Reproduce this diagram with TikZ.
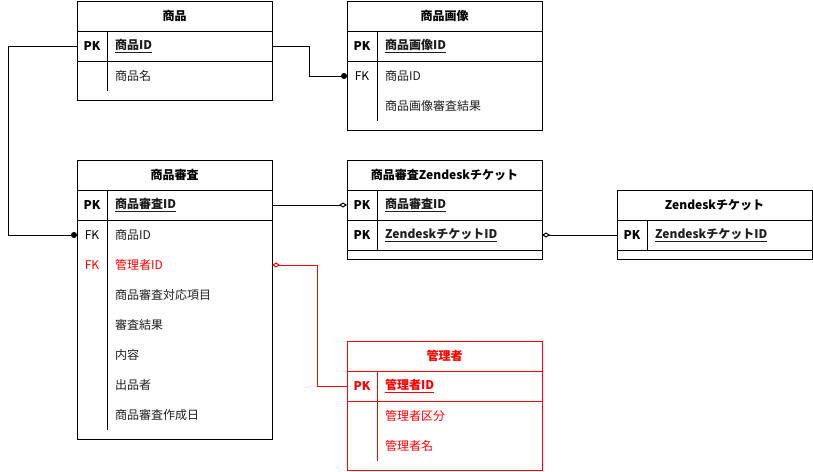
\documentclass[tikz,border=0pt]{standalone}
\usepackage{fontspec}
\setmainfont{Noto Sans CJK JP}
\usetikzlibrary{positioning}
\usetikzlibrary{arrows.meta}
\definecolor{erRojo}{RGB}{255,0,0}
\definecolor{erTexto}{RGB}{30,30,30}
\tikzset{
  letra/.style={font=\fontsize{12pt}{14pt}\selectfont},
  cabecera/.style={
    rectangle, draw, line width=1pt, minimum width=195pt, minimum height=30pt,
    inner sep=0pt, outer sep=0pt, font=\fontsize{12pt}{14pt}\selectfont\bfseries
  },
  filapk/.style={
    rectangle, draw, line width=1pt, minimum width=195pt, minimum height=30pt,
    inner sep=0pt, outer sep=0pt
  },
  fila/.style={
    rectangle, minimum width=195pt, minimum height=30pt, inner sep=0pt, outer sep=0pt
  },
  cuerpo/.style={
    rectangle, draw, line width=1pt, minimum width=195pt, inner sep=0pt, outer sep=0pt
  },
  clave/.style={font=\fontsize{12pt}{14pt}\selectfont\bfseries, inner sep=0pt},
  claveF/.style={font=\fontsize{12pt}{14pt}\selectfont, inner sep=0pt},
  campo/.style={anchor=west, inner sep=0pt, text=erTexto},
  divisor/.style={line width=1pt},
  rel/.style={line width=1pt},
  uno/.style={-{Circle[length=6pt]}},
  cero/.style={-{Diamond[open, length=8pt, width=5pt, line width=1pt]}}
}
\begin{document}
\begin{tikzpicture}[x=1pt, y=-1pt, letra]
  \useasboundingbox (0,0) rectangle (813,471);
  % 商品
  \node[cabecera, anchor=north west] (shohin) at (77,1) {商品};
  \node[filapk, below=0pt of shohin] (shohinPK) {};
  \node[cuerpo, minimum height=39pt, below=0pt of shohinPK] (shohinB) {};
  \node[fila, below=0pt of shohinPK] (shohinF1) {};
  \draw[divisor] ([xshift=30pt]shohinPK.north west) -- ([xshift=30pt]shohinF1.south west);
  \node[clave] (shohinK0) at ([xshift=15pt]shohinPK.west) {PK};
  \node[campo] (shohinC0) at ([xshift=38pt]shohinPK.west) {\textbf{\underline{商品ID}}};
  \node[campo] (shohinC1) at ([xshift=38pt]shohinF1.west) {商品名};

  % 商品画像
  \node[cabecera, anchor=north west] (gazo) at (347,1) {商品画像};
  \node[filapk, below=0pt of gazo] (gazoPK) {};
  \node[cuerpo, minimum height=69pt, below=0pt of gazoPK] (gazoB) {};
  \node[fila, below=0pt of gazoPK] (gazoF1) {};
  \node[fila, below=0pt of gazoF1] (gazoF2) {};
  \draw[divisor] ([xshift=30pt]gazoPK.north west) -- ([xshift=30pt]gazoF2.south west);
  \node[clave] (gazoK0) at ([xshift=15pt]gazoPK.west) {PK};
  \node[campo] (gazoC0) at ([xshift=38pt]gazoPK.west) {\textbf{\underline{商品画像ID}}};
  \node[claveF] (gazoK1) at ([xshift=15pt]gazoF1.west) {FK};
  \node[campo] (gazoC1) at ([xshift=38pt]gazoF1.west) {商品ID};
  \node[campo] (gazoC2) at ([xshift=38pt]gazoF2.west) {商品画像審査結果};

  % 商品審査
  \node[cabecera, anchor=north west] (shinsa) at (77,160) {商品審査};
  \node[filapk, below=0pt of shinsa] (shinsaPK) {};
  \node[cuerpo, minimum height=219pt, below=0pt of shinsaPK] (shinsaB) {};
  \node[fila, below=0pt of shinsaPK] (shinsaF1) {};
  \node[fila, below=0pt of shinsaF1] (shinsaF2) {};
  \node[fila, below=0pt of shinsaF2] (shinsaF3) {};
  \node[fila, below=0pt of shinsaF3] (shinsaF4) {};
  \node[fila, below=0pt of shinsaF4] (shinsaF5) {};
  \node[fila, below=0pt of shinsaF5] (shinsaF6) {};
  \node[fila, below=0pt of shinsaF6] (shinsaF7) {};
  \draw[divisor] ([xshift=30pt]shinsaPK.north west) -- ([xshift=30pt]shinsaF7.south west);
  \node[clave] (shinsaK0) at ([xshift=15pt]shinsaPK.west) {PK};
  \node[campo] (shinsaC0) at ([xshift=38pt]shinsaPK.west) {\textbf{\underline{商品審査ID}}};
  \node[claveF] (shinsaK1) at ([xshift=15pt]shinsaF1.west) {FK};
  \node[campo] (shinsaC1) at ([xshift=38pt]shinsaF1.west) {商品ID};
  \node[claveF, text=erRojo] (shinsaK2) at ([xshift=15pt]shinsaF2.west) {FK};
  \node[campo, text=erRojo] (shinsaC2) at ([xshift=38pt]shinsaF2.west) {管理者ID};
  \node[campo] (shinsaC3) at ([xshift=38pt]shinsaF3.west) {商品審査対応項目};
  \node[campo] (shinsaC4) at ([xshift=38pt]shinsaF4.west) {審査結果};
  \node[campo] (shinsaC5) at ([xshift=38pt]shinsaF5.west) {内容};
  \node[campo] (shinsaC6) at ([xshift=38pt]shinsaF6.west) {出品者};
  \node[campo] (shinsaC7) at ([xshift=38pt]shinsaF7.west) {商品審査作成日};

  % 商品審査Zendeskチケット
  \node[cabecera, anchor=north west] (zdShinsa) at (347,160) {商品審査Zendeskチケット};
  \node[filapk, below=0pt of zdShinsa] (zdShinsaPK1) {};
  \node[filapk, below=0pt of zdShinsaPK1] (zdShinsaPK2) {};
  \node[cuerpo, minimum height=9pt, below=0pt of zdShinsaPK2] (zdShinsaB) {};
  \draw[divisor] ([xshift=30pt]zdShinsaPK1.north west) -- ([xshift=30pt]zdShinsaPK2.south west);
  \node[clave] (zdShinsaK1) at ([xshift=15pt]zdShinsaPK1.west) {PK};
  \node[campo] (zdShinsaC1) at ([xshift=38pt]zdShinsaPK1.west) {\textbf{\underline{商品審査ID}}};
  \node[clave] (zdShinsaK2) at ([xshift=15pt]zdShinsaPK2.west) {PK};
  \node[campo] (zdShinsaC2) at ([xshift=38pt]zdShinsaPK2.west) {\textbf{\underline{ZendeskチケットID}}};

  % Zendeskチケット
  \node[cabecera, anchor=north west] (zd) at (617,190) {Zendeskチケット};
  \node[filapk, below=0pt of zd] (zdPK) {};
  \node[cuerpo, minimum height=9pt, below=0pt of zdPK] (zdB) {};
  \draw[divisor] ([xshift=30pt]zdPK.north west) -- ([xshift=30pt]zdPK.south west);
  \node[clave] (zdK0) at ([xshift=15pt]zdPK.west) {PK};
  \node[campo] (zdC0) at ([xshift=38pt]zdPK.west) {\textbf{\underline{ZendeskチケットID}}};

  % 管理者
  \begin{scope}[draw=erRojo, text=erRojo]
    \node[cabecera, draw=erRojo, anchor=north west] (kanri) at (347,341) {管理者};
    \node[filapk, draw=erRojo, below=0pt of kanri] (kanriPK) {};
    \node[cuerpo, draw=erRojo, minimum height=69pt, below=0pt of kanriPK] (kanriB) {};
    \node[fila, below=0pt of kanriPK] (kanriF1) {};
    \node[fila, below=0pt of kanriF1] (kanriF2) {};
    \draw[divisor, erRojo] ([xshift=30pt]kanriPK.north west) -- ([xshift=30pt]kanriF2.south west);
    \node[clave] (kanriK0) at ([xshift=15pt]kanriPK.west) {PK};
    \node[campo, text=erRojo] (kanriC0) at ([xshift=38pt]kanriPK.west) {\textbf{\underline{管理者ID}}};
    \node[campo, text=erRojo] (kanriC1) at ([xshift=38pt]kanriF1.west) {管理者区分};
    \node[campo, text=erRojo] (kanriC2) at ([xshift=38pt]kanriF2.west) {管理者名};
  \end{scope}

  % relaciones
  \draw[rel, uno] (shohinPK.west) -- ++(-69,0) |- (shinsaF1.west);
  \draw[rel, uno] (shohinPK.east) -- ++(37,0) |- (gazoF1.west);
  \draw[rel, cero] (shinsaPK.east) -- (zdShinsaPK1.west);
  \draw[rel, cero] (zdPK.west) -- (zdShinsaPK2.east);
  \draw[rel, cero, erRojo] (kanriPK.west) -- ++(-30,0) |- (shinsaF2.east);
\end{tikzpicture}
\end{document}
